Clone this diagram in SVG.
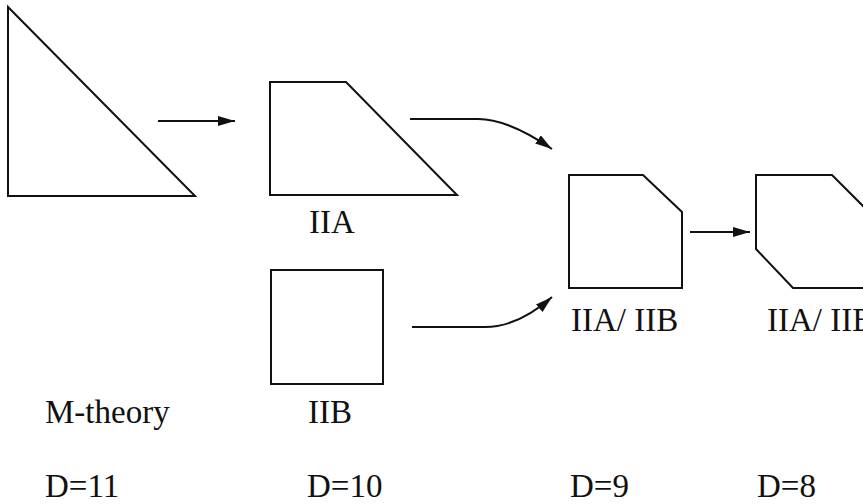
<svg xmlns="http://www.w3.org/2000/svg" width="863" height="504" viewBox="0 0 863 504">
  <style>
    .shape { fill: none; stroke: #111; stroke-width: 2; stroke-linejoin: miter; }
    .link { fill: none; stroke: #111; stroke-width: 2; }
    .label { font-family: "Liberation Serif", "Times New Roman", serif; font-size: 33px; fill: #111; }
  </style>
  <defs>
    <marker id="head" markerUnits="userSpaceOnUse" markerWidth="20" markerHeight="12" refX="17" refY="5" orient="auto">
      <path d="M0,0 L17,5 L0,10 Z" fill="#111"/>
    </marker>
  </defs>

  <rect width="863" height="504" fill="#fff"/>

  <!-- D = 11 -->
  <g id="m-theory">
    <polygon class="shape" points="8,7 8,196 195,196"/>
    <text class="label" x="45" y="423">M-theory</text>
  </g>

  <!-- D = 10 -->
  <g id="iia">
    <polygon class="shape" points="270,82 346,82 457,195 270,195"/>
    <text class="label" x="309" y="233">IIA</text>
  </g>
  <g id="iib">
    <rect class="shape" x="271" y="270" width="112" height="114"/>
    <text class="label" x="308" y="423">IIB</text>
  </g>

  <!-- D = 9 -->
  <g id="iia-iib-9">
    <polygon class="shape" points="569,175 643,175 682,212 682,288 569,288"/>
    <text class="label" x="571" y="331">IIA/ IIB</text>
  </g>

  <!-- D = 8 -->
  <g id="iia-iib-8">
    <polygon class="shape" points="756,175 832,175 869,212 869,288 793,288 756,249"/>
    <text class="label" x="767" y="331">IIA/ IIB</text>
  </g>

  <!-- dimension row -->
  <g id="dimensions">
    <text class="label" x="45" y="497">D=11</text>
    <text class="label" x="307" y="497">D=10</text>
    <text class="label" x="570" y="497">D=9</text>
    <text class="label" x="757" y="497">D=8</text>
  </g>

  <g id="connectors">
    <path class="link" d="M158,121 H235" marker-end="url(#head)"/>
    <path class="link" d="M410,119 H478 Q508,119 552,149" marker-end="url(#head)"/>
    <path class="link" d="M412,327 H485 Q518,327 552,297" marker-end="url(#head)"/>
    <path class="link" d="M690,232 H750" marker-end="url(#head)"/>
  </g>
</svg>
